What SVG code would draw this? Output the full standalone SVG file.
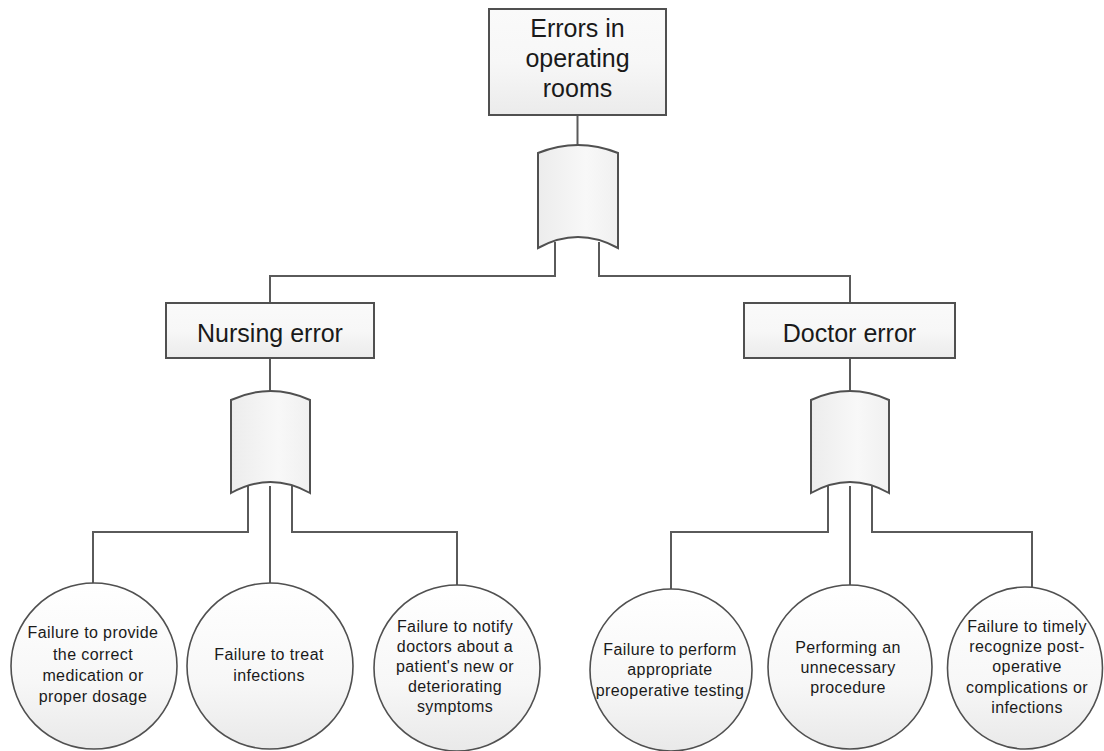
<svg xmlns="http://www.w3.org/2000/svg" width="1104" height="751" viewBox="0 0 1104 751">
  <defs>
    <linearGradient id="boxGrad" x1="0" y1="0" x2="0" y2="1">
      <stop offset="0" stop-color="#fafafa"/>
      <stop offset="0.5" stop-color="#f7f7f7"/>
      <stop offset="1" stop-color="#ebebeb"/>
    </linearGradient>
    <linearGradient id="gateGrad" x1="0" y1="0" x2="1" y2="0">
      <stop offset="0" stop-color="#ececec"/>
      <stop offset="0.6" stop-color="#f8f8f8"/>
      <stop offset="1" stop-color="#f0f0f0"/>
    </linearGradient>
    <linearGradient id="circGrad" x1="0" y1="0" x2="0" y2="1">
      <stop offset="0" stop-color="#ffffff"/>
      <stop offset="0.6" stop-color="#f7f7f7"/>
      <stop offset="1" stop-color="#e9e9e9"/>
    </linearGradient>
  </defs>
  <style>
    .conn { fill: none; stroke: #5a5a5a; stroke-width: 2; }
    .box { fill: url(#boxGrad); stroke: #505050; stroke-width: 2; }
    .gate { fill: url(#gateGrad); stroke: #505050; stroke-width: 2; }
    .circ { fill: url(#circGrad); stroke: #505050; stroke-width: 1.6; }
    .big { font-family: "Liberation Sans", Arial, sans-serif; font-size: 25px; fill: #1a1a1a; text-anchor: middle; }
    .small { font-family: "Liberation Sans", Arial, sans-serif; font-size: 16px; fill: #1a1a1a; text-anchor: middle; letter-spacing: 0.4px; }
  </style>
  <rect width="1104" height="751" fill="#ffffff"/>

  <g id="connectors">
    <path class="conn" d="M577.5,115 V148"/>
    <path class="conn" d="M555,242 V276 H270 V303"/>
    <path class="conn" d="M599,242 V276 H850 V303"/>
    <path class="conn" d="M270,358 V394"/>
    <path class="conn" d="M850,358 V394"/>
    <path class="conn" d="M248,486 V532 H93 V584"/>
    <path class="conn" d="M270,486 V584"/>
    <path class="conn" d="M292,486 V532 H457 V586"/>
    <path class="conn" d="M828,486 V532 H671 V590"/>
    <path class="conn" d="M850,486 V586"/>
    <path class="conn" d="M872,486 V532 H1032 V588"/>
  </g>

  <g id="top-event">
    <rect class="box" x="489" y="9" width="177" height="106"/>
    <text class="big" x="577.5" y="37">Errors in</text>
    <text class="big" x="577.5" y="67">operating</text>
    <text class="big" x="577.5" y="97">rooms</text>
  </g>

  <g id="gate-top">
    <path class="gate" d="M538,153 Q578,137 618,153 V248 Q578,226 538,248 Z"/>
  </g>

  <g id="nursing-error">
    <rect class="box" x="166" y="303" width="208" height="55"/>
    <text class="big" x="270" y="342">Nursing error</text>
  </g>

  <g id="doctor-error">
    <rect class="box" x="744" y="303" width="211" height="55"/>
    <text class="big" x="849.5" y="342">Doctor error</text>
  </g>

  <g id="gate-nursing">
    <path class="gate" d="M231,400 Q270.5,382 310,400 V493 Q270.5,471 231,493 Z"/>
  </g>

  <g id="gate-doctor">
    <path class="gate" d="M811,400 Q850,382 889,400 V493 Q850,471 811,493 Z"/>
  </g>

  <g id="event-n1">
    <circle class="circ" cx="94" cy="666" r="83"/>
    <text class="small" x="93" y="638">Failure to provide</text>
    <text class="small" x="93" y="660">the correct</text>
    <text class="small" x="93" y="681">medication or</text>
    <text class="small" x="93" y="702">proper dosage</text>
  </g>

  <g id="event-n2">
    <circle class="circ" cx="270" cy="666" r="83"/>
    <text class="small" x="269" y="660">Failure to treat</text>
    <text class="small" x="269" y="681">infections</text>
  </g>

  <g id="event-n3">
    <circle class="circ" cx="457" cy="668" r="83"/>
    <text class="small" x="455" y="632">Failure to notify</text>
    <text class="small" x="455" y="652">doctors about a</text>
    <text class="small" x="455" y="672">patient's new or</text>
    <text class="small" x="455" y="692">deteriorating</text>
    <text class="small" x="455" y="712">symptoms</text>
  </g>

  <g id="event-d1">
    <circle class="circ" cx="671" cy="670" r="81"/>
    <text class="small" x="670" y="655">Failure to perform</text>
    <text class="small" x="670" y="675">appropriate</text>
    <text class="small" x="670" y="696">preoperative testing</text>
  </g>

  <g id="event-d2">
    <circle class="circ" cx="850" cy="667" r="82"/>
    <text class="small" x="848" y="653">Performing an</text>
    <text class="small" x="848" y="673">unnecessary</text>
    <text class="small" x="848" y="693">procedure</text>
  </g>

  <g id="event-d3">
    <ellipse class="circ" cx="1025" cy="668" rx="77.5" ry="81"/>
    <text class="small" x="1027" y="632">Failure to timely</text>
    <text class="small" x="1027" y="652">recognize post-</text>
    <text class="small" x="1027" y="672">operative</text>
    <text class="small" x="1027" y="693">complications or</text>
    <text class="small" x="1027" y="713">infections</text>
  </g>
</svg>
